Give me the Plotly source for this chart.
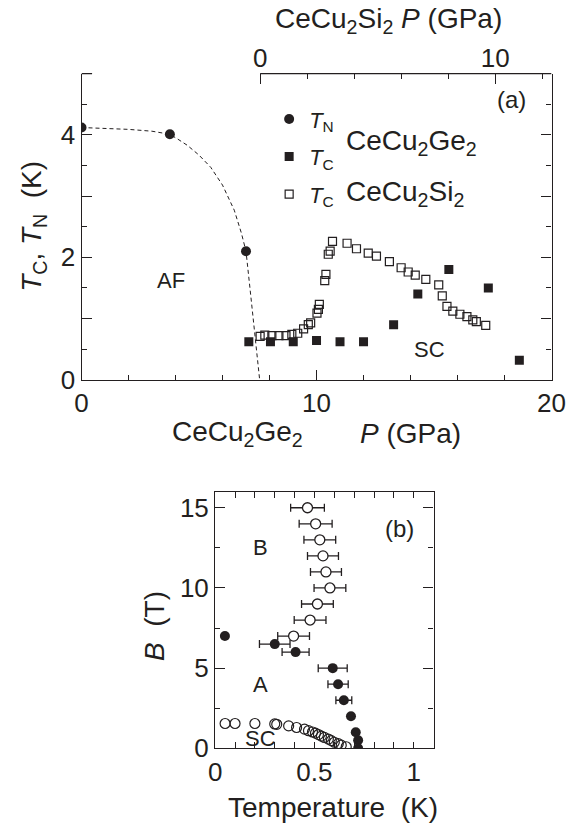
import plotly.graph_objects as go

W, H = 580, 837
INK = "#231f20"
FONT = "Liberation Sans"

# ---------------- Panel (a) data ----------------
# CeCu2Ge2 Neel temperature (filled circles)
ge_tn_p = [0.0, 3.76, 7.0]
ge_tn_t = [4.12, 4.01, 2.10]
# dashed guide line through T_N
guide_p = [0, 1, 2, 3, 3.76, 4.1, 4.5, 5.0, 5.5, 6.0, 6.5, 6.8, 7.0, 7.2, 7.4, 7.58]
guide_t = [4.12, 4.11, 4.09, 4.06, 4.01, 3.93, 3.83, 3.67, 3.47, 3.18, 2.77, 2.40, 2.10, 1.38, 0.65, 0.0]
# CeCu2Ge2 Tc (filled squares)
ge_tc_p = [7.12, 8.04, 9.01, 10.0, 11.0, 12.0, 13.28, 14.31, 15.63, 17.31, 18.63]
ge_tc_t = [0.62, 0.62, 0.62, 0.64, 0.62, 0.62, 0.90, 1.40, 1.80, 1.50, 0.32]
# CeCu2Si2 Tc (open squares), on the CeCu2Ge2 pressure scale
si_tc_p = [7.6, 7.8, 8.1, 8.4, 8.7, 8.95, 9.2, 9.45, 9.65, 9.75, 10.02, 10.08, 10.12,
           10.35, 10.4, 10.5, 10.58, 10.68, 11.3, 11.7, 12.2, 12.55, 13.1, 13.6, 13.9,
           14.2, 14.65, 15.2, 15.35, 15.55, 15.8, 16.1, 16.4, 16.65, 16.8, 17.2]
si_tc_t = [0.71, 0.73, 0.72, 0.72, 0.72, 0.74, 0.76, 0.83, 0.90, 0.93, 1.09, 1.15, 1.23,
           1.62, 1.72, 2.05, 2.10, 2.26, 2.23, 2.14, 2.07, 2.02, 1.93, 1.83, 1.76,
           1.71, 1.64, 1.55, 1.37, 1.20, 1.12, 1.07, 1.03, 0.98, 0.95, 0.89]
si_offset = 7.6  # CeCu2Si2 P = CeCu2Ge2 P - offset

# ---------------- Panel (b) data ----------------
# open circles with error bars (B phase boundary)
bo_t = [0.465, 0.506, 0.527, 0.543, 0.558, 0.578, 0.515, 0.478, 0.395]
bo_b = [15, 14, 13, 12, 11, 10, 9, 8, 7]
bo_e = [0.085, 0.083, 0.08, 0.078, 0.078, 0.08, 0.08, 0.08, 0.08]
# filled circles (A phase boundary)
af_t = [0.049, 0.30, 0.405, 0.592, 0.619, 0.648, 0.684, 0.708, 0.72, 0.72]
af_b = [7.0, 6.5, 6.0, 5.0, 4.0, 3.0, 2.0, 1.0, 0.5, 0.0]
af_e = [0, 0.077, 0.068, 0.073, 0.051, 0.04, 0, 0, 0, 0]
# open circles, superconducting upper critical field
sc_t = [0.05, 0.10, 0.20, 0.30, 0.31, 0.37, 0.41, 0.45, 0.47, 0.49, 0.505, 0.52,
        0.535, 0.55, 0.57, 0.585, 0.60, 0.62, 0.635, 0.66]
sc_b = [1.55, 1.55, 1.55, 1.52, 1.50, 1.40, 1.30, 1.20, 1.10, 1.02, 0.95, 0.86,
        0.76, 0.68, 0.58, 0.48, 0.38, 0.29, 0.20, 0.10]


def px(x, y):
    return x / W, 1 - y / H


fig = go.Figure()

fig.add_trace(go.Scatter(x=guide_p, y=guide_t, mode="lines", showlegend=False,
                         line=dict(color=INK, width=1, dash="4px,3px"),
                         xaxis="x", yaxis="y", hoverinfo="skip"))
fig.add_trace(go.Scatter(x=ge_tn_p, y=ge_tn_t, mode="markers",
                         name="<i>T</i><sub>N</sub>", legendgroup="g1",
                         marker=dict(symbol="circle", size=10, color=INK),
                         xaxis="x", yaxis="y"))
fig.add_trace(go.Scatter(x=ge_tc_p, y=ge_tc_t, mode="markers",
                         name="<i>T</i><sub>C</sub>", legendgroup="g2",
                         marker=dict(symbol="square", size=9, color=INK),
                         xaxis="x", yaxis="y"))
fig.add_trace(go.Scatter(x=[p - si_offset for p in si_tc_p], y=si_tc_t, mode="markers",
                         name="<i>T</i><sub>C</sub>", legendgroup="g3",
                         marker=dict(symbol="square-open", size=8, color=INK,
                                     line=dict(width=1.2, color=INK)),
                         xaxis="x3", yaxis="y"))

# panel b
fig.add_trace(go.Scatter(x=bo_t, y=bo_b, mode="markers", showlegend=False,
                         error_x=dict(type="data", array=bo_e, color=INK, thickness=1.3, width=4),
                         marker=dict(symbol="circle", size=10, color="white",
                                     line=dict(width=1.3, color=INK)),
                         xaxis="x2", yaxis="y2"))
fig.add_trace(go.Scatter(x=af_t, y=af_b, mode="markers", showlegend=False,
                         error_x=dict(type="data", array=af_e, color=INK, thickness=1.3, width=4),
                         marker=dict(symbol="circle", size=10, color=INK),
                         xaxis="x2", yaxis="y2"))
fig.add_trace(go.Scatter(x=sc_t, y=sc_b, mode="markers", showlegend=False,
                         marker=dict(symbol="circle", size=10, color="rgba(255,255,255,0)",
                                     line=dict(width=1.2, color=INK)),
                         xaxis="x2", yaxis="y2"))

tickfont = dict(family=FONT, size=26, color=INK)
LW = 1.3

fig.update_layout(
    width=W, height=H, margin=dict(l=0, r=0, t=0, b=0),
    paper_bgcolor="white", plot_bgcolor="white",
    font=dict(family=FONT, color=INK),
    xaxis=dict(domain=[77.3 / W, 565 / W], range=[0, 20], anchor="y",
               tickmode="array", tickvals=[0, 10, 20], ticks="inside", ticklen=10,
               tickwidth=LW, tickcolor=INK,
               minor=dict(tickmode="array", tickvals=[2, 4, 6, 8, 12, 14, 16, 18],
                          ticks="inside", ticklen=5, tickwidth=LW, tickcolor=INK),
               showline=True, linewidth=LW, linecolor=INK, mirror=False,
               showgrid=False, zeroline=False, tickfont=tickfont),
    xaxis3=dict(overlaying="x", anchor="y", side="top", range=[-si_offset, 20 - si_offset],
                tickmode="array", tickvals=[0, 10], ticks="inside", ticklen=10,
                tickwidth=LW, tickcolor=INK,
                minor=dict(tickmode="array", tickvals=[2, 4, 6, 8, 12],
                           ticks="inside", ticklen=5, tickwidth=LW, tickcolor=INK),
                showline=False, showgrid=False, zeroline=False, tickfont=tickfont),
    yaxis=dict(domain=[1 - 386.7 / H, 1 - 75 / H], range=[0, 5], anchor="x",
               tickmode="array", tickvals=[0, 1, 2, 3, 4, 5],
               ticktext=["0", "", "2", "", "4", ""],
               ticks="inside", ticklen=10, tickwidth=LW, tickcolor=INK,
               minor=dict(dtick=0.5, ticks="inside", ticklen=5, tickwidth=LW, tickcolor=INK),
               showline=True, linewidth=LW, linecolor=INK, mirror="ticks",
               showgrid=False, zeroline=False, tickfont=tickfont),
    xaxis2=dict(domain=[216 / W, 442.6 / W], range=[0, 1.1], anchor="y2",
                tickmode="array", tickvals=[0, 0.5, 1], ticktext=["0", "0.5", "1"],
                ticks="inside", ticklen=6, tickwidth=LW, tickcolor=INK,
                minor=dict(dtick=0.1, ticks="inside", ticklen=6, tickwidth=LW, tickcolor=INK),
                showline=True, linewidth=LW, linecolor=INK, mirror="ticks",
                showgrid=False, zeroline=False, tickfont=tickfont),
    yaxis2=dict(domain=[1 - 762 / H, 1 - 500.7 / H], range=[0, 16], anchor="x2",
                tickmode="array", tickvals=[0, 5, 10, 15],
                ticks="inside", ticklen=10, tickwidth=LW, tickcolor=INK,
                minor=dict(dtick=2.5, ticks="inside", ticklen=5, tickwidth=LW, tickcolor=INK),
                showline=True, linewidth=LW, linecolor=INK, mirror="ticks",
                showgrid=False, zeroline=False, tickfont=tickfont),
    legend=dict(x=272 / W, y=1 - 100 / H, xanchor="left", yanchor="top",
                bgcolor="rgba(0,0,0,0)", borderwidth=0, tracegroupgap=6,
                font=dict(family=FONT, size=22, color=INK)),
)

# top axis line of panel (a): starts at CeCu2Si2 P = 0, plus a short corner stub
fig.add_shape(type="line", xref="x", yref="y domain", x0=si_offset, x1=20, y0=1, y1=1,
              line=dict(color=INK, width=LW))
fig.add_shape(type="line", xref="x", yref="y domain", x0=0, x1=0.45, y0=1, y1=1,
              line=dict(color=INK, width=LW))


def ann(text, x, y, size, angle=0, xanchor="center"):
    ax, ay = px(x, y)
    fig.add_annotation(text=text, x=ax, y=ay, xref="paper", yref="paper",
                       showarrow=False, textangle=angle, xanchor=xanchor, yanchor="middle",
                       font=dict(family=FONT, size=size, color=INK))


ann("CeCu<sub>2</sub>Si<sub>2</sub> <i>P</i> (GPa)", 396, 21, 28)
ann("CeCu<sub>2</sub>Ge<sub>2</sub>", 239, 441, 28)
ann("<i>P</i> (GPa)", 419, 441, 28)
ann("<i>T</i><sub>C</sub>, <i>T</i><sub>N</sub>  (K)", 28, 230, 28, angle=-90)
ann("CeCu<sub>2</sub>Ge<sub>2</sub>", 350, 145, 28, xanchor="left")
ann("CeCu<sub>2</sub>Si<sub>2</sub>", 350, 197, 28, xanchor="left")
ann("(a)", 523, 101, 24)
ann("AF", 170, 286, 22)
ann("SC", 438, 356, 22)

ann("<i>B</i>  (T)", 153, 637, 28, angle=-90)
ann("Temperature  (K)", 338, 822, 28)
ann("(b)", 407, 538, 24)
ann("B", 263, 557, 22)
ann("A", 263, 697, 22)
ann("SC", 263, 752, 22)

fig.write_html("out.html")
